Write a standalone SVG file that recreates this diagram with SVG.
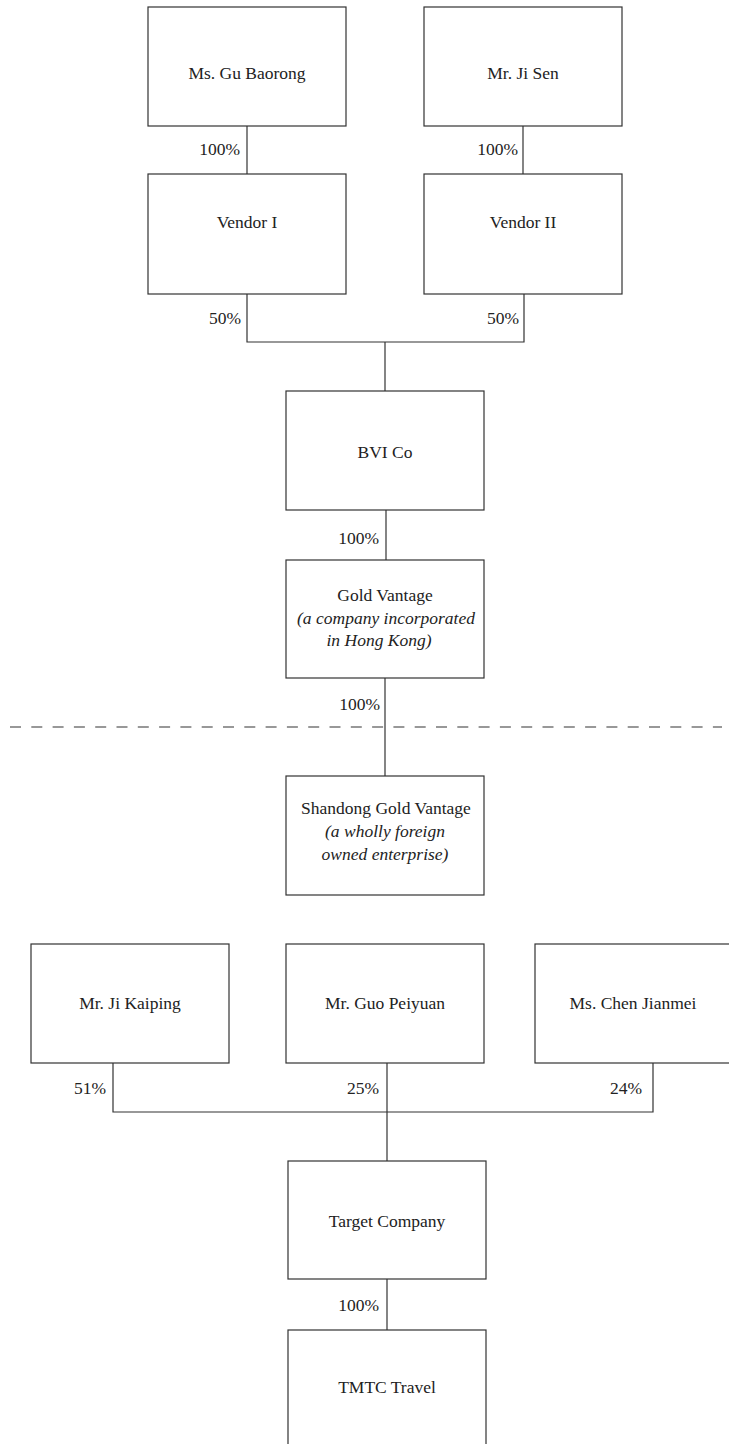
<svg xmlns="http://www.w3.org/2000/svg" width="729" height="1444" viewBox="0 0 729 1444">
<style>
.box{fill:#fff;stroke:#333;stroke-width:1.2}
.ln{fill:none;stroke:#333;stroke-width:1.2}
text{font-family:"Liberation Serif","Times New Roman",serif;font-size:17.5px;fill:#222}
.c{text-anchor:middle}
.r{text-anchor:end}
.i{font-style:italic}
</style>
<rect width="729" height="1444" fill="#fff"/>
<g id="connectors">
<line class="ln" x1="247" y1="126" x2="247" y2="174"/>
<line class="ln" x1="523" y1="126" x2="523" y2="174"/>
<polyline class="ln" points="247,294 247,342 524,342 524,294"/>
<line class="ln" x1="385" y1="342" x2="385" y2="391"/>
<line class="ln" x1="386" y1="510" x2="386" y2="560"/>
<line class="ln" x1="385" y1="678" x2="385" y2="776"/>
<line class="ln" x1="10" y1="727" x2="722" y2="727" stroke-dasharray="11 10.3"/>
<polyline class="ln" points="113,1063 113,1112 653,1112 653,1063"/>
<line class="ln" x1="387" y1="1063" x2="387" y2="1161"/>
<line class="ln" x1="387" y1="1279" x2="387" y2="1330"/>
<text class="r" x="240" y="155">100%</text>
<text class="r" x="518" y="155">100%</text>
<text class="r" x="241" y="324">50%</text>
<text class="r" x="519" y="324">50%</text>
<text class="r" x="379" y="544">100%</text>
<text class="r" x="380" y="710">100%</text>
<text class="r" x="106" y="1094">51%</text>
<text class="r" x="379" y="1094">25%</text>
<text class="r" x="642" y="1094">24%</text>
<text class="r" x="379" y="1311">100%</text>
</g>
<g id="gu-baorong"><rect class="box" x="148" y="7" width="198" height="119"/><text class="c" x="247" y="79">Ms. Gu Baorong</text></g>
<g id="ji-sen"><rect class="box" x="424" y="7" width="198" height="119"/><text class="c" x="523" y="79">Mr. Ji Sen</text></g>
<g id="vendor-1"><rect class="box" x="148" y="174" width="198" height="120"/><text class="c" x="247" y="228">Vendor I</text></g>
<g id="vendor-2"><rect class="box" x="424" y="174" width="198" height="120"/><text class="c" x="523" y="228">Vendor II</text></g>
<g id="bvi-co"><rect class="box" x="286" y="391" width="198" height="119"/><text class="c" x="385" y="458">BVI Co</text></g>
<g id="gold-vantage"><rect class="box" x="286" y="560" width="198" height="118"/>
<text class="c" x="385" y="601">Gold Vantage</text>
<text class="c i" x="386" y="624">(a company incorporated</text>
<text class="c i" x="379" y="646">in Hong Kong)</text></g>
<g id="shandong"><rect class="box" x="286" y="776" width="198" height="119"/>
<text class="c" x="386" y="814">Shandong Gold Vantage</text>
<text class="c i" x="385" y="837">(a wholly foreign</text>
<text class="c i" x="385" y="860">owned enterprise)</text></g>
<g id="ji-kaiping"><rect class="box" x="31" y="944" width="198" height="119"/><text class="c" x="130" y="1009">Mr. Ji Kaiping</text></g>
<g id="guo-peiyuan"><rect class="box" x="286" y="944" width="198" height="119"/><text class="c" x="385" y="1009">Mr. Guo Peiyuan</text></g>
<g id="chen-jianmei"><rect class="box" x="535" y="944" width="198" height="119"/><text class="c" x="633" y="1009">Ms. Chen Jianmei</text></g>
<g id="target"><rect class="box" x="288" y="1161" width="198" height="118"/><text class="c" x="387" y="1227">Target Company</text></g>
<g id="tmtc"><rect class="box" x="288" y="1330" width="198" height="120"/><text class="c" x="387" y="1393">TMTC Travel</text></g>
</svg>
